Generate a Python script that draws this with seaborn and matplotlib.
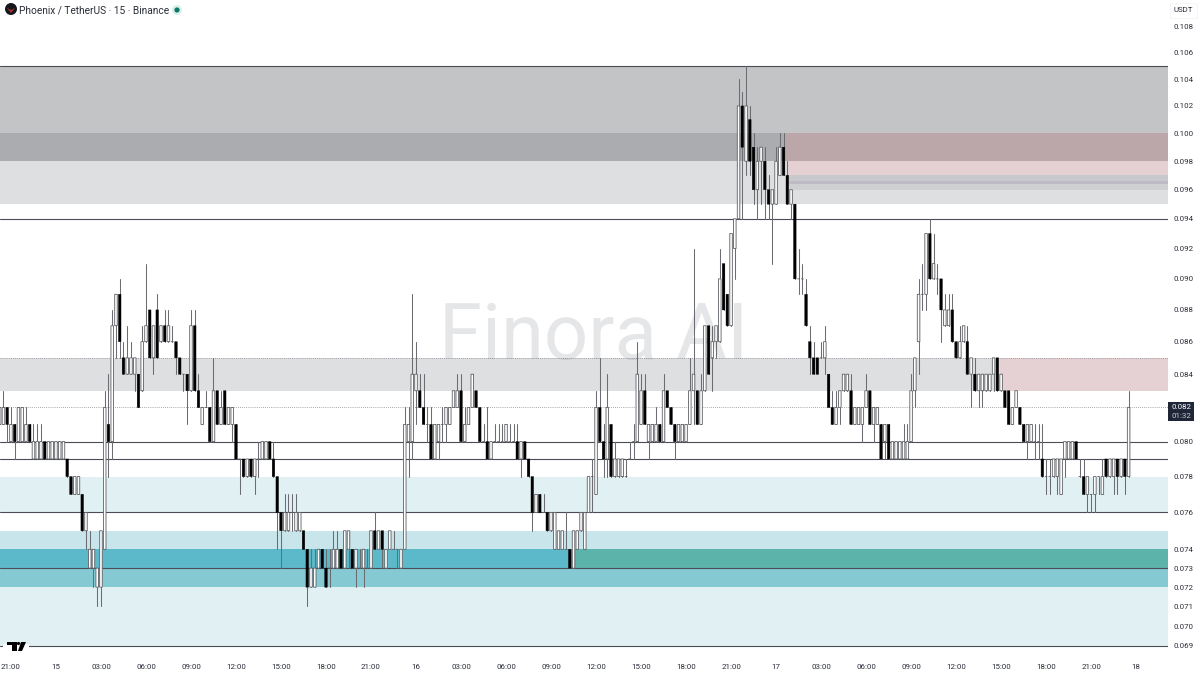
import matplotlib
matplotlib.use("Agg")
import matplotlib.pyplot as plt
import pandas as pd
import seaborn as sns
from matplotlib.patches import Circle, Polygon, Rectangle
from matplotlib.transforms import Affine2D

sns.set_style("white")
plt.rcParams['font.family'] = ['Roboto', 'DejaVu Sans']

# prices are in tenths of a cent (81 = 0.081), the chart tick is 0.001
opens = [
    81,81,82,80,81,80,80,80,81,79, 79,79,80,79,79,79,79,79,79,78,
    77,77,77,75,73,73,72,72,74,81, 80,87,89,85,84,84,84,84,83,86,
    88,85,88,86,87,86,86,86,85,84, 84,83,87,83,81,82,82,80,83,81,
    83,81,81,81,79,79,78,79,78,79, 79,79,80,79,78,76,75,75,76,75,
    75,75,74,72,72,73,74,73,73,73, 73,74,73,74,74,73,73,73,73,73,
    75,74,75,73,74,74,74,73,74,80, 80,83,83,82,81,81,79,80,81,81,
    81,82,82,83,80,81,82,83,82,80, 80,79,80,80,80,80,80,80,80,79,
    80,79,78,76,77,76,76,75,74,74, 74,74,74,73,74,75,74,76,78,77,
    82,80,79,81,78,78,78,78,79,80, 80,81,83,80,80,80,81,80,83,82,
    81,80,80,80,81,83,83,81,83,87, 85,86,86,91,89,87,92,94,102,98,
    101,99,96,98,98,96,95,95,97,99, 97,95,95,90,90,89,86,85,85,85,
    85,84,82,81,82,83,83,83,81,81, 81,82,83,81,81,81,80,81,79,79,
    79,79,79,80,83,86,89,89,93,90, 90,90,87,87,88,86,85,86,86,84,
    84,83,83,83,83,84,85,83,83,83, 81,82,82,81,80,80,80,80,79,78,
    78,78,78,77,79,79,79,80,78,78, 77,77,77,78,77,79,78,78,79,78,
    79,78,
]
closes = [
    82,82,81,81,80,82,82,81,80,80, 80,80,79,80,80,80,80,80,78,77,
    78,78,75,76,74,74,73,75,82,80, 87,89,86,84,85,85,85,82,86,87,
    85,87,85,87,86,87,86,85,84,84, 83,87,83,82,82,82,80,83,81,82,
    81,82,82,79,79,78,79,78,79,79, 80,80,79,78,76,75,76,76,76,76,
    76,74,72,73,73,74,73,72,73,74, 74,73,75,75,73,74,73,74,73,75,
    74,75,74,74,75,74,74,74,81,81, 84,84,82,81,81,79,81,81,81,82,
    82,83,83,80,81,82,84,82,80,80, 79,80,80,80,80,81,80,80,79,80,
    79,78,76,77,76,76,75,76,76,75, 75,74,73,75,75,76,76,78,78,82,
    80,79,82,78,79,79,79,78,79,80, 84,83,81,81,81,81,80,83,82,81,
    80,81,81,81,83,84,81,83,87,84, 86,87,90,88,87,93,94,102,99,102,
    98,96,98,99,96,95,96,98,99,97, 95,96,90,90,90,87,85,84,84,85,
    86,82,81,82,83,84,84,81,82,82, 82,83,81,82,82,79,81,79,80,80,
    80,80,80,83,85,89,89,93,90,91, 90,88,88,88,86,85,86,87,84,85,
    83,84,84,84,84,85,83,84,82,81, 82,83,81,80,81,81,80,80,78,78,
    78,79,79,79,80,80,80,79,78,77, 78,77,78,78,78,78,79,79,78,79,
    78,82,
]
highs = [
    82,83,82,82,81,82,82,82,81,81, 81,81,80,80,80,80,80,80,79,78,
    78,78,77,76,75,74,73,75,83,84, 88,89,90,86,87,86,85,84,87,91,
    88,87,89,87,88,88,87,86,85,84, 84,88,88,84,82,83,82,85,83,83,
    83,82,82,81,79,79,79,79,79,80, 80,80,80,80,78,76,77,77,77,77,
    76,75,74,74,74,74,74,74,74,75, 75,74,75,75,74,74,74,74,74,75,
    76,75,75,74,75,75,74,74,82,82, 89,86,84,84,82,82,81,81,82,82,
    82,83,84,84,82,82,84,83,82,81, 82,80,81,81,81,81,81,81,81,80,
    80,79,78,77,77,77,76,76,76,75, 75,76,74,75,75,76,76,78,79,83,
    85,81,84,81,80,79,79,79,80,81, 86,84,84,81,81,82,81,84,83,82,
    81,81,81,81,85,92,83,84,87,87, 87,87,92,91,89,93,94,104,103,105,
    102,100,99,99,99,97,96,99,100,100, 98,96,95,92,91,90,87,86,85,86,
    87,84,83,83,83,84,84,84,82,82, 82,84,83,82,82,81,81,81,80,80,
    80,81,81,84,85,90,91,93,94,93, 91,90,89,89,89,86,87,87,87,85,
    85,84,84,84,84,85,85,84,83,83, 82,83,82,81,81,81,81,81,81,79,
    79,79,79,79,80,80,80,80,79,79, 78,77,78,78,79,79,79,79,79,79,
    79,83,
]
lows = [
    81,81,80,80,79,80,80,80,80,79, 79,79,79,79,79,79,79,79,78,77,
    77,77,75,74,73,72,71,71,74,78, 79,85,85,84,84,84,83,82,83,86,
    85,84,85,86,86,86,86,84,84,83, 81,83,83,82,81,82,80,80,81,81,
    81,81,80,79,77,78,78,78,77,78, 79,79,79,78,74,73,75,75,75,75,
    75,74,71,72,72,73,73,72,72,73, 73,73,73,73,73,72,73,72,73,73,
    74,74,73,73,74,74,73,73,74,78, 79,81,82,81,80,79,79,79,80,80,
    81,82,82,80,80,81,82,82,80,80, 79,79,80,80,80,80,80,80,79,78,
    79,78,75,76,76,76,75,75,74,74, 74,74,73,73,74,75,74,76,76,77,
    80,78,78,78,78,78,78,78,79,79, 80,81,81,79,80,80,80,80,82,81,
    79,80,80,80,81,81,81,81,83,84, 83,85,86,88,87,87,90,94,94,97,
    97,95,94,95,94,94,91,95,97,97, 95,94,90,89,89,87,84,84,84,85,
    84,82,81,81,81,83,83,81,81,81, 80,82,81,80,81,79,79,79,79,79,
    79,79,79,80,82,84,88,88,90,90, 89,86,87,87,86,85,85,86,84,82,
    83,82,82,83,83,83,83,83,82,81, 81,82,81,80,79,80,79,79,78,77,
    77,78,77,77,78,79,79,79,78,77, 76,76,76,77,77,78,78,77,77,78,
    77,78,
]

# supply / demand zones: price range, start candle, colour
zone_lo = [0.100, 0.098, 0.095, 0.098, 0.097, 0.0966, 0.0964, 0.0960, 0.083, 0.083,
           0.076, 0.074, 0.073, 0.073, 0.072, 0.069]
zone_hi = [0.105, 0.100, 0.098, 0.100, 0.098, 0.0970, 0.0966, 0.0964, 0.085, 0.085,
           0.078, 0.075, 0.074, 0.074, 0.073, 0.072]
zone_start = [0, 0, 0, 208.9, 210.2, 210.2, 210.2, 210.2, 0, 266.7,
              0, 0, 0, 153.2, 0, 0]
zone_colors = ['#c3c4c6', '#abacb0', '#dedfe1', '#bba6aa', '#e5d0d3', '#c8c9cc', '#bfbac6', '#cfd0d2',
               '#dedfe1', '#e5d0d3', '#e0f0f3', '#c7e5ea', '#5cb9c9', '#5cb3a9', '#85c9d3', '#e0f0f3']

solid_levels = [0.105, 0.094, 0.080, 0.079, 0.076, 0.073, 0.069]
dotted_levels = [0.085, 0.082]

# 0.082 is left out, the last price tag sits on it
price_ticks = [0.108, 0.106, 0.104, 0.102, 0.100, 0.098, 0.096, 0.094, 0.092, 0.090, 0.088,
               0.086, 0.084, 0.080, 0.078, 0.076, 0.074, 0.073, 0.072, 0.071, 0.070, 0.069]
time_ticks = [3 + 12 * k for k in range(26)]
time_labels = ['21:00', '15', '03:00', '06:00', '09:00', '12:00', '15:00', '18:00', '21:00',
               '16', '03:00', '06:00', '09:00', '12:00', '15:00', '18:00', '21:00',
               '17', '03:00', '06:00', '09:00', '12:00', '15:00', '18:00', '21:00', '18']

df = pd.DataFrame({'open': opens, 'close': closes, 'high': highs, 'low': lows}) / 1000
df['idx'] = range(len(df))
wicks = df.melt(id_vars='idx', value_vars=['low', 'high'], value_name='price')

fig = plt.figure(figsize=(12, 6.75), dpi=100)
ax = fig.add_axes([0, 20 / 675, 1168 / 1200, 655 / 675])
ax.set_yscale('log')
XMAX = 311.5
ax.set_xlim(0.08, XMAX)
ax.set_ylim(0.06855, 0.11013)

# pixel coordinates of the screenshot, y going down
px = Affine2D().scale(1, -1).translate(0, 675)

for lo, hi, start, col in zip(zone_lo, zone_hi, zone_start, zone_colors):
    ax.fill_between([start, XMAX], lo, hi, color=col, lw=0, zorder=1)
ax.text(594, 337, 'Finora AI', transform=px, fontsize=56, color='#6a6d78', alpha=0.17,
        ha='center', va='center', zorder=1.5)
for lev in solid_levels:
    ax.axhline(lev, color='#4a4d55', lw=0.8, zorder=2)
for lev in dotted_levels:
    ax.axhline(lev, color='#8a8c92', lw=0.6, ls=(0, (1, 1.5)), zorder=2)

# wicks go through seaborn, one two point line per candle
sns.lineplot(data=wicks, x='idx', y='price', units='idx', estimator=None,
             color='#6b6d72', lw=0.75, legend=False, ax=ax, zorder=3)

up = df[df['close'] >= df['open']]
down = df[df['close'] < df['open']]
up_bars = ax.bar(up['idx'], up['close'] - up['open'], bottom=up['open'], width=0.68,
                 facecolor='white', edgecolor='#5c5e63', lw=0.6, zorder=4)
down_bars = ax.bar(down['idx'], down['open'] - down['close'], bottom=down['close'], width=0.68,
                   facecolor='black', edgecolor='black', lw=0.3, zorder=4)
# no pixel snapping, otherwise the black bodies jump between 2 and 4 px wide
for bar in list(up_bars) + list(down_bars):
    bar.set_snap(False)

ax.minorticks_off()
ax.yaxis.tick_right()
ax.set_yticks(price_ticks, [f'{p:.3f}' for p in price_ticks])
ax.set_xticks(time_ticks, time_labels)
ax.tick_params(axis='y', length=0, pad=4, labelsize=5.7, labelcolor='#2a2e39')
ax.tick_params(axis='x', length=0, pad=6.5, labelsize=5.7, labelcolor='#2a2e39')
ax.minorticks_off()
ax.set_xlabel('')
ax.set_ylabel('')
sns.despine(ax=ax, left=True, bottom=True, right=True, top=True)

fig.text(19, 10, 'Phoenix / TetherUS · 15 · Binance', transform=px, fontsize=7.3, color='#2a2e39',
         ha='left', va='center')
fig.text(1173, 10, 'USDT', transform=px, fontsize=5.7, color='#2a2e39', ha='left', va='center')
fig.add_artist(Rectangle((1170, 3), 27, 15, transform=px, fc='none', ec='#f4f4f6', lw=0.6))

# symbol icon and market status dot
fig.add_artist(Circle((11, 9), 6, transform=px, fc='#15171c', ec='none'))
fig.add_artist(Polygon([(7, 8), (11, 10), (15, 8), (11, 13)], transform=px, fc='#a83226', ec='none'))
fig.add_artist(Circle((177, 10), 5, transform=px, fc='#d9efeb', ec='none'))
fig.add_artist(Circle((177, 10), 2.6, transform=px, fc='#0b7a6b', ec='none'))

# last price tag
fig.add_artist(Rectangle((1168, 402), 26, 19, transform=px, fc='#1f2637', ec='none'))
fig.text(1181, 407, '0.082', transform=px, fontsize=5.7, color='white', ha='center', va='center')
fig.text(1181, 416, '01:32', transform=px, fontsize=5.7, color='#c8cad0', ha='center', va='center')

# tradingview logo on the bottom line
fig.add_artist(Rectangle((3, 644), 26, 4, transform=px, fc='white', ec='none'))
fig.add_artist(Polygon([(7, 642), (17, 642), (17, 651), (12, 651), (12, 645), (7, 645)],
                       transform=px, fc='black', ec='none'))
fig.add_artist(Circle((18.5, 643.5), 1.6, transform=px, fc='black', ec='none'))
fig.add_artist(Polygon([(21, 642), (26, 642), (22, 651), (18, 651)], transform=px, fc='black', ec='none'))

fig.savefig('out.png', dpi=100)
